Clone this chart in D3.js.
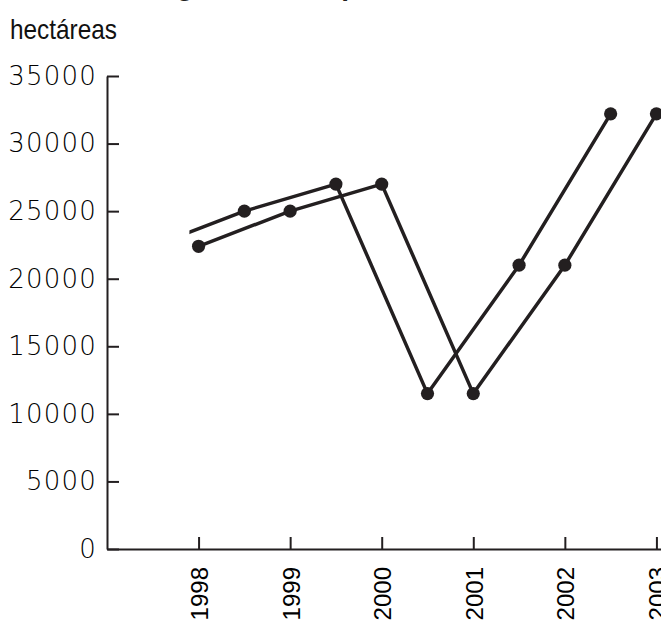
<!DOCTYPE html>
<html>
<head>
<meta charset="utf-8">
<script src="https://cdn.jsdelivr.net/npm/d3@7"></script>
<style>
  html, body { margin: 0; padding: 0; background: #fff; }
  svg { display: block; }
</style>
</head>
<body>
<svg id="chart" width="661" height="622"></svg>
<script>
// ---- data ----
const years = [1998, 1999, 2000, 2001, 2002, 2003];
const values = [22400, 25000, 27000, 11500, 21000, 32200];
// second (shifted by half a year) trace of the same series
const shiftedYears = [1997.5, 1998.5, 1999.5, 2000.5, 2001.5, 2002.5];
const shiftedValues = [22400, 25000, 27000, 11500, 21000, 32200];
const yTicks = [0, 5000, 10000, 15000, 20000, 25000, 30000, 35000];
const xTicks = [1998, 1999, 2000, 2001, 2002, 2003];
const unitLabel = "hectáreas";
const titleText = "Cultivo de algodón en el país";

// ---- layout ----
const W = 661, H = 622;
const ink = "#231f20";
const svg = d3.select("#chart");

const x = d3.scaleLinear().domain([1997, 2003.05]).range([107, 661]);
const y = d3.scaleLinear().domain([0, 35000]).range([549, 76]);

// partially visible title (cut by the top edge, as in the reference)
svg.append("text")
  .attr("x", 10).attr("y", -5)
  .attr("font-family", "Liberation Sans, Arial, sans-serif")
  .attr("font-weight", "bold")
  .attr("font-size", 28)
  .attr("fill", ink)
  .text(titleText);

// unit label (condensed look)
svg.append("text")
  .attr("transform", "translate(10,39) scale(0.87,1)")
  .attr("font-family", "'Liberation Sans', Arial, sans-serif")
  .attr("font-size", 28)
  .attr("fill", "#111")
  .text(unitLabel);

// y axis
const yAxis = d3.axisLeft(y).tickValues(yTicks).tickSizeInner(-12).tickSizeOuter(0).tickPadding(10)
  .tickFormat(d3.format("d"));
const gy = svg.append("g").attr("transform", `translate(${x(1997)},0)`).call(yAxis);
gy.select(".domain").attr("stroke", ink).attr("stroke-width", 2);
gy.selectAll(".tick line").attr("stroke", ink).attr("stroke-width", 2);
gy.selectAll(".tick text")
  .attr("font-family", "'DejaVu Sans', sans-serif")
  .attr("font-weight", 300)
  .attr("font-size", 26)
  .attr("letter-spacing", 1.2)
  .attr("fill", "#000");

// x axis
const xAxis = d3.axisBottom(x).tickValues(xTicks).tickSizeInner(-12).tickSizeOuter(0).tickFormat(d3.format("d"));
const gx = svg.append("g").attr("transform", `translate(0,${y(0)})`).call(xAxis);
gx.select(".domain").attr("stroke", ink).attr("stroke-width", 2);
gx.selectAll(".tick line").attr("stroke", ink).attr("stroke-width", 2);
gx.selectAll(".tick text")
  .attr("font-family", "'Liberation Sans', Arial, sans-serif")
  .attr("font-size", 24)
  .attr("fill", "#000")
  .attr("text-anchor", "end")
  .attr("transform", "rotate(-90)")
  .attr("x", -18)
  .attr("y", 0)
  .attr("dy", "0.38em");

// clip for shifted trace
svg.append("clipPath").attr("id", "clipShift")
  .append("rect")
  .attr("x", x(1997.9)).attr("y", 0)
  .attr("width", W - x(1997.9)).attr("height", H);

const line = d3.line().x(d => x(d[0])).y(d => y(d[1]));

const mainData = years.map((yr, i) => [yr, values[i]]);
const shiftData = shiftedYears.map((yr, i) => [yr, shiftedValues[i]]);

const gShift = svg.append("g").attr("clip-path", "url(#clipShift)");
gShift.append("path").datum(shiftData)
  .attr("d", line).attr("fill", "none").attr("stroke", ink).attr("stroke-width", 3.5)
  .attr("stroke-linejoin", "round");
gShift.selectAll("circle").data(shiftData).join("circle")
  .attr("cx", d => x(d[0])).attr("cy", d => y(d[1])).attr("r", 6.6).attr("fill", ink);

const gMain = svg.append("g");
gMain.append("path").datum(mainData)
  .attr("d", line).attr("fill", "none").attr("stroke", ink).attr("stroke-width", 3.5)
  .attr("stroke-linejoin", "round");
gMain.selectAll("circle").data(mainData).join("circle")
  .attr("cx", d => x(d[0])).attr("cy", d => y(d[1])).attr("r", 6.6).attr("fill", ink);
</script>
</body>
</html>
